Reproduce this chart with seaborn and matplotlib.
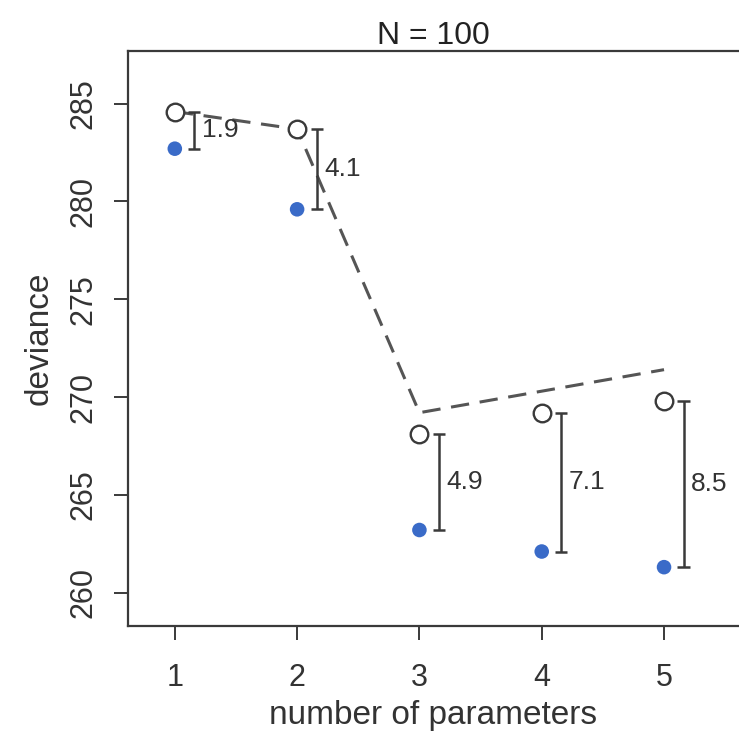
import numpy as np
import pandas as pd
import matplotlib
matplotlib.use("Agg")
import matplotlib.pyplot as plt
import seaborn as sns

# deviance by number of parameters, N = 100
n_params = [1, 2, 3, 4, 5]
dev_in = [282.7, 279.6, 263.2, 262.1, 261.3]      # filled blue points
dev_out = [284.6, 283.7, 268.1, 269.2, 269.8]     # open circles
dev_line = [284.6, 283.7, 269.2, 270.3, 271.4]    # dashed line
gap_labels = ["1.9", "4.1", "4.9", "7.1", "8.5"]

df = pd.DataFrame({"k": n_params, "dev_in": dev_in, "dev_out": dev_out, "dev_line": dev_line})

sns.set_style("white")
plt.rcParams["font.family"] = ["Liberation Sans", "DejaVu Sans"]

fig = plt.figure(figsize=(7.39, 7.38), dpi=100)
ax = fig.add_axes([0.173, 0.152, 0.827, 0.779])

ink = "#3a3a3a"

sns.lineplot(data=df, x="k", y="dev_line", ax=ax, color="#555555", lw=2.2,
             linestyle=(0, (6, 3.5)), zorder=2)
sns.scatterplot(data=df, x="k", y="dev_out", ax=ax, s=160, marker="o",
                facecolor="white", edgecolor=ink, linewidth=1.7, zorder=4)
sns.scatterplot(data=df, x="k", y="dev_in", ax=ax, s=110, color="#3a6bc8",
                edgecolor="none", zorder=4)

off = 0.16
cap = 0.05
for k, lo, hi, lab in zip(n_params, dev_in, dev_out, gap_labels):
    xb = k + off
    ax.vlines(xb, lo, hi, color=ink, lw=1.8, zorder=3)
    ax.hlines([lo, hi], xb - cap, xb + cap, color=ink, lw=1.8, zorder=3)
    ax.text(k + 0.22, (lo + hi) / 2, lab, fontsize=19, color="#333333",
            va="center", ha="left", zorder=5)

ax.set_xlim(0.616, 5.613)
ax.set_ylim(258.3, 287.7)
ax.set_xticks(n_params)
ax.set_yticks([260, 265, 270, 275, 280, 285])
ax.tick_params(axis="both", direction="out", length=10, width=1.4, color=ink,
               labelsize=22, labelcolor="#333333", left=True, bottom=True)
ax.tick_params(axis="x", pad=17)
ax.tick_params(axis="y", pad=11)
for lbl in ax.get_yticklabels():
    lbl.set_rotation(90)
    lbl.set_va("center")

for side in ["left", "bottom", "top"]:
    ax.spines[side].set_color(ink)
    ax.spines[side].set_linewidth(1.6)
ax.spines["right"].set_visible(False)

ax.set_xlabel("number of parameters", fontsize=24, color="#333333", labelpad=5)
ax.set_ylabel("deviance", fontsize=24, color="#333333", labelpad=10)
ax.set_title("N = 100", fontsize=23, color="#222222", pad=5)

fig.savefig("out.png", dpi=100)
